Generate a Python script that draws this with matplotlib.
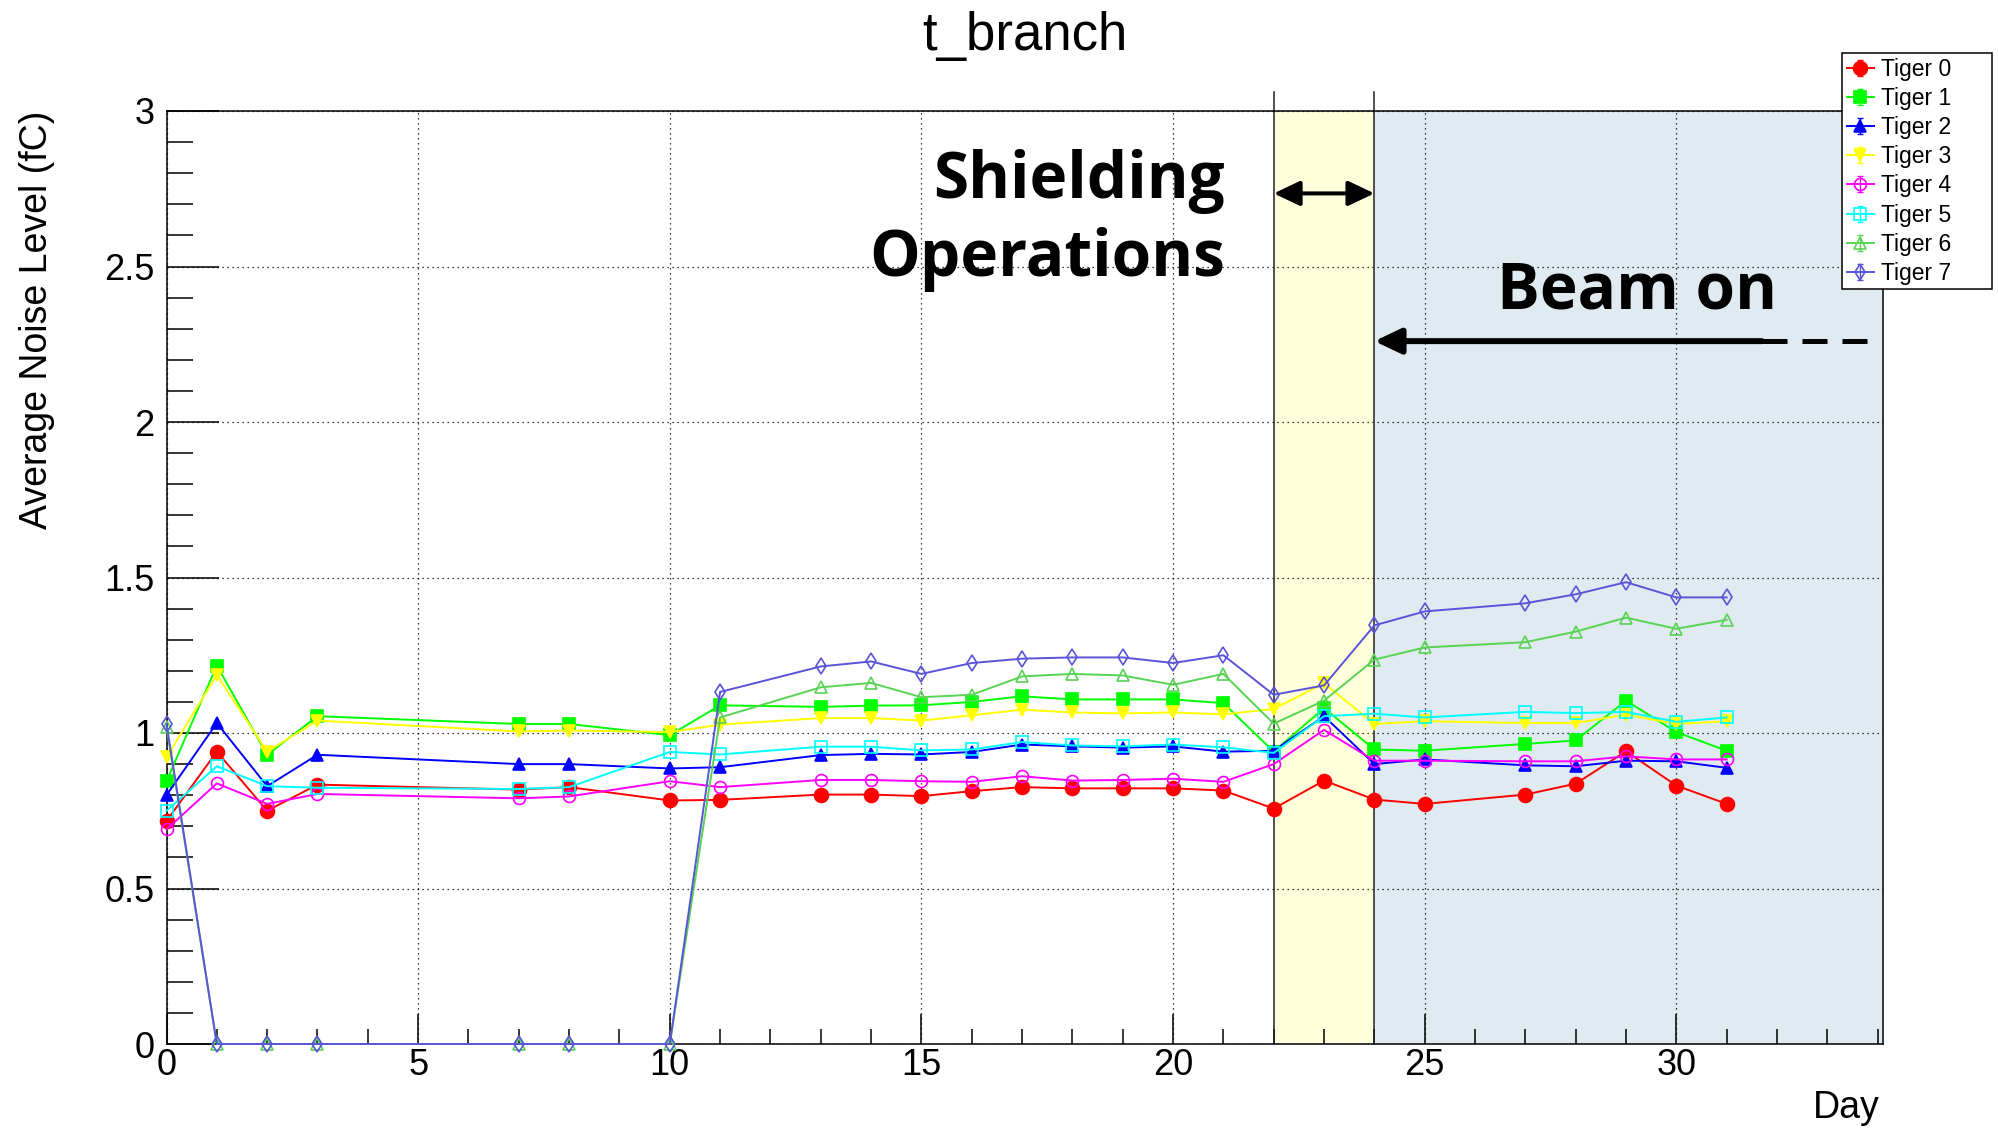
import matplotlib
matplotlib.use('Agg')
import matplotlib.pyplot as plt
from matplotlib.lines import Line2D
from matplotlib.path import Path
from matplotlib.ticker import MultipleLocator, FixedLocator

plt.rcParams['font.family'] = ['Liberation Sans', 'DejaVu Sans']

# --- data ---
days = [0, 1, 2, 3, 7, 8, 10, 11, 13, 14, 15, 16, 17, 18, 19, 20, 21, 22, 23, 24, 25, 27, 28, 29, 30, 31]

tiger0 = [0.717, 0.94, 0.75, 0.834, 0.818, 0.826, 0.783, 0.785, 0.802, 0.802, 0.797, 0.813, 0.826,
          0.822, 0.822, 0.822, 0.815, 0.757, 0.847, 0.786, 0.772, 0.802, 0.837, 0.941, 0.831, 0.772]
tiger1 = [0.845, 1.217, 0.93, 1.054, 1.029, 1.029, 0.993, 1.089, 1.084, 1.088, 1.089, 1.10, 1.118,
          1.108, 1.108, 1.108, 1.096, 0.94, 1.08, 0.947, 0.943, 0.965, 0.976, 1.104, 1.003, 0.943]
tiger2 = [0.80, 1.032, 0.829, 0.93, 0.90, 0.90, 0.886, 0.89, 0.929, 0.933, 0.931, 0.939, 0.963,
          0.957, 0.953, 0.957, 0.94, 0.943, 1.054, 0.90, 0.915, 0.896, 0.893, 0.911, 0.909, 0.888]
tiger3 = [0.922, 1.187, 0.94, 1.04, 1.005, 1.008, 1.003, 1.027, 1.048, 1.048, 1.04, 1.057, 1.075,
          1.066, 1.063, 1.066, 1.06, 1.077, 1.16, 1.029, 1.038, 1.032, 1.032, 1.059, 1.029, 1.038]
tiger4 = [0.69, 0.838, 0.772, 0.804, 0.79, 0.796, 0.845, 0.826, 0.849, 0.849, 0.845, 0.843, 0.861,
          0.847, 0.849, 0.853, 0.843, 0.90, 1.01, 0.911, 0.911, 0.909, 0.909, 0.925, 0.915, 0.915]
tiger5 = [0.75, 0.893, 0.829, 0.824, 0.82, 0.826, 0.939, 0.931, 0.956, 0.956, 0.944, 0.947, 0.971,
          0.96, 0.957, 0.963, 0.954, 0.936, 1.054, 1.062, 1.05, 1.068, 1.064, 1.068, 1.036, 1.05]
tiger6 = [1.02, 0, 0, 0, 0, 0, 0, 1.05, 1.147, 1.161, 1.115, 1.123, 1.182,
          1.19, 1.185, 1.155, 1.19, 1.03, 1.104, 1.236, 1.275, 1.292, 1.326, 1.371, 1.335, 1.364]
tiger7 = [1.03, 0, 0, 0, 0, 0, 0, 1.132, 1.214, 1.23, 1.19, 1.225, 1.239,
          1.243, 1.243, 1.225, 1.25, 1.123, 1.153, 1.346, 1.391, 1.417, 1.446, 1.485, 1.436, 1.436]

labels = ['Tiger 0', 'Tiger 1', 'Tiger 2', 'Tiger 3', 'Tiger 4', 'Tiger 5', 'Tiger 6', 'Tiger 7']
x_ticks = [0, 5, 10, 15, 20, 25, 30]
x_tick_labels = ['0', '5', '10', '15', '20', '25', '30']
y_ticks = [0, 0.5, 1, 1.5, 2, 2.5, 3]
y_tick_labels = ['0', '0.5', '1', '1.5', '2', '2.5', '3']

shield_start, beam_start = 22, 24

# ROOT-like colours / markers
colors = ['#ff0000', '#00ff00', '#0000ff', '#ffff00', '#ff00ff', '#00ffff', '#59d354', '#5954d8']
markers = ['o', 's', '^', 'v', 'o', 's', '^', 'd']
msizes = [10, 8.6, 8, 8, 8.6, 8.6, 8.6, 8.5]
filled = [True, True, True, True, False, False, False, False]
series = [tiger0, tiger1, tiger2, tiger3, tiger4, tiger5, tiger6, tiger7]

W, H = 1998, 1131
fig = plt.figure(figsize=(W / 100, H / 100), dpi=100)
ax = fig.add_axes([166.5 / W, 87 / H, (1882.7 - 166.5) / W, 933 / H])
ax.set_xlim(0, 34.1)
ax.set_ylim(0, 3)

# shaded periods
ax.axvspan(shield_start, beam_start, color='#ffffdc', zorder=0.5, lw=0)
ax.axvspan(beam_start, 34.1, color='#dfeaf1', zorder=0.5, lw=0)

# grid + ticks
ax.set_axisbelow('line')
ax.xaxis.set_major_locator(FixedLocator(x_ticks))
ax.set_xticklabels(x_tick_labels)
ax.yaxis.set_major_locator(FixedLocator(y_ticks))
ax.set_yticklabels(y_tick_labels)
ax.xaxis.set_minor_locator(MultipleLocator(1))
ax.yaxis.set_minor_locator(MultipleLocator(0.1))
ax.grid(True, which='major', color='k', linestyle=(0, (1, 3)), linewidth=0.9)
ax.tick_params(axis='y', which='major', direction='in', length=37.4, width=1.1, labelsize=26, pad=8.6)
ax.tick_params(axis='y', which='minor', direction='in', length=18.7, width=1.1)
ax.tick_params(axis='x', which='major', direction='in', length=21.6, width=1.1, labelsize=26, pad=3)
ax.tick_params(axis='x', which='minor', direction='in', length=10.6, width=1.1)
for sp in ax.spines.values():
    sp.set_linewidth(1.1)

# series
handles = []
ebar = Path([(0, -1), (0, 1), (-0.35, 1), (0.35, 1), (-0.35, -1), (0.35, -1)],
            [Path.MOVETO, Path.LINETO, Path.MOVETO, Path.LINETO, Path.MOVETO, Path.LINETO])
for vals, c, m, ms, f in zip(series, colors, markers, msizes, filled):
    kw = dict(color=c, marker=m, ms=ms, mec=c, mfc=c if f else 'none', mew=1.2, lw=1.4)
    ax.plot(days, vals, clip_on=False, zorder=3, **kw)
    bar = Line2D([], [], color=c, marker=ebar, ms=12, mew=1.0, linestyle='none')
    handles.append((bar, Line2D([], [], **kw)))

# boundary lines of shielding period
for xv in [shield_start, beam_start]:
    ax.plot([xv, xv], [0, 3.062], color='#222222', lw=1.1, clip_on=False, zorder=2.5)

# annotations
txt = dict(fontsize=46, family='Open Sans', weight='bold')
ax.text(21.03, 2.719, 'Shielding', ha='right', va='baseline', **txt)
ax.text(21.03, 2.47, 'Operations', ha='right', va='baseline', **txt)
ax.text(26.44, 2.366, 'Beam on', ha='left', va='baseline', **txt)

ax.annotate('', xy=(beam_start, 2.735), xytext=(shield_start, 2.735),
            arrowprops=dict(arrowstyle='<|-|>,head_length=0.8,head_width=0.38', lw=2.9,
                            color='k', mutation_scale=20, shrinkA=0, shrinkB=0))
ax.annotate('', xy=(beam_start, 2.26), xytext=(31.7, 2.26),
            arrowprops=dict(arrowstyle='-|>,head_length=0.8,head_width=0.38', lw=4.3,
                            color='k', mutation_scale=20, shrinkA=0, shrinkB=0))
ax.plot([31.7, 33.96], [2.26, 2.26], color='k', lw=3.6, dashes=(5, 3), zorder=4)

# titles / labels
fig.text(1025 / W, 1 - 50 / H, 't_branch', ha='center', va='baseline', fontsize=38)
fig.text(37 / W, 1 - 111 / H, 'Average Noise Level (fC)', rotation=90,
         ha='center', va='top', fontsize=27)
fig.text(1880 / W, 1 - 1118 / H, 'Day', ha='right', va='baseline', fontsize=27)

leg = fig.legend(handles, labels, loc='upper left',
                 bbox_to_anchor=(1842 / W, 1 - 287 / H, 150 / W, 234 / H), mode='expand',
                 borderaxespad=0, fontsize=16.5, handlelength=1.2, handletextpad=0.3,
                 labelspacing=0.27, borderpad=0.2, fancybox=False, framealpha=1,
                 edgecolor='k')
leg.get_frame().set_linewidth(1.1)

fig.savefig('out.png', dpi=100)
